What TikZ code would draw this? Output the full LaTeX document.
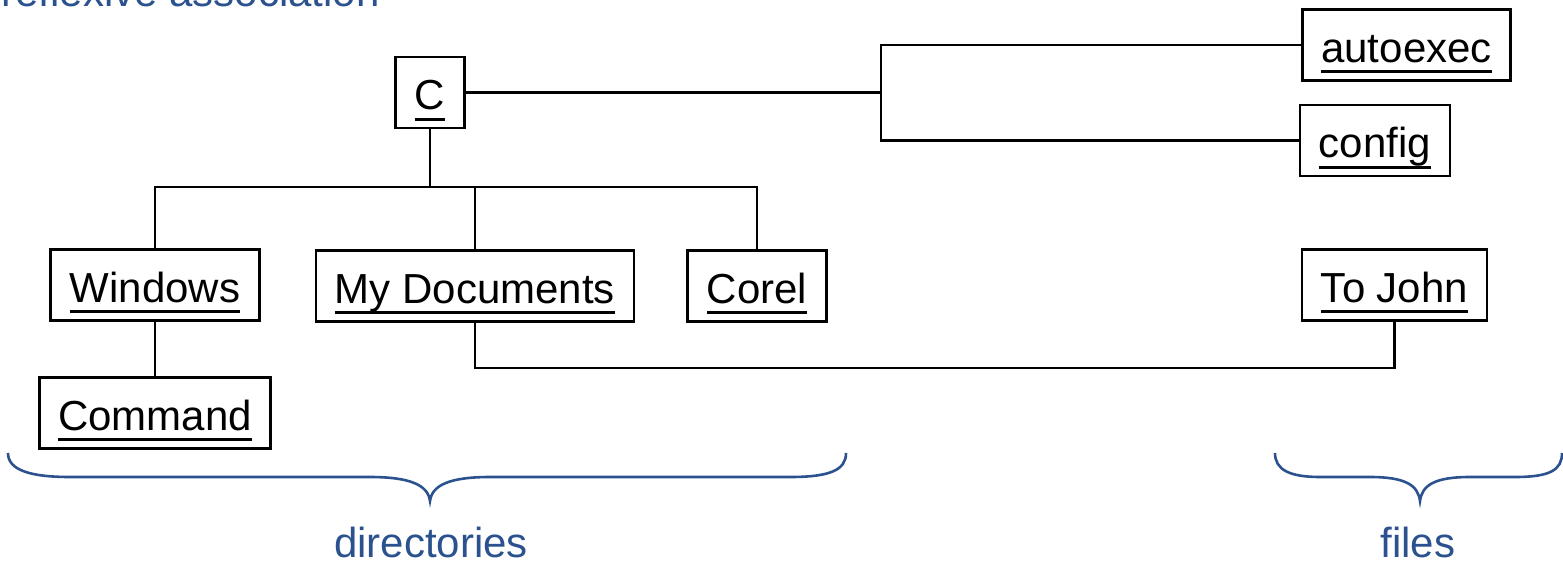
\documentclass[tikz,border=0pt]{standalone}
\usepackage{fontspec}
\setmainfont{Liberation Sans}
\usepackage{tikz}
\usetikzlibrary{positioning}

\definecolor{noteblue}{RGB}{43,82,142}
\newcommand{\boxfont}{\fontsize{21}{25}\selectfont}
\newcommand{\ulname}[1]{\setbox0\hbox{#1}\dp0=0pt\vtop{\box0\kern4pt\hrule height1.5pt}}

\begin{document}
\begin{tikzpicture}[
            x=0.5pt, y=-0.5pt, % one unit per pixel of the page
            box/.style={draw, line width=1.4pt, inner xsep=9.5pt, inner ysep=1pt,
                        text height=25pt, text depth=8pt, minimum height=35.5pt, font=\boxfont},
            wire/.style={draw, line width=1.3pt},
            curly/.style={draw=noteblue, line width=1.3pt},
            note/.style={text=noteblue, font=\boxfont, inner sep=0pt}
        ]
    \useasboundingbox (0,0) rectangle (1563,562);

    \node [note, anchor=base west] (Reflexive) at (1,6) {reflexive association};

    % directories and files
    \node [box, minimum width=32pt] (C) at (430,92.5) {\ulname{C}};
    \node [box] (Autoexec) at (1406.5,45) {\ulname{autoexec}};
    \node [box] (Config) at (1375,140.5) {\ulname{config}};
    \node [box] (Windows) at (155,285) {\ulname{Windows}};
    \node [box] (MyDocuments) at (475,286) {\ulname{My Documents}};
    \node [box] (Corel) at (757,286) {\ulname{Corel}};
    \node [box] (ToJohn) at (1394.5,285) {\ulname{To John}};
    \node [box] (Command) at (155,413) {\ulname{Command}};

    \coordinate (FileJoin) at (881,92.5);
    \coordinate (DirJoin) at (430,187);
    \coordinate (Bottom) at (900,368);

    % connectors
    \draw [wire] (C.east) -- (FileJoin);
    \draw [wire] (Autoexec.west) -| (FileJoin) |- (Config.west);
    \draw [wire] (C.south) -- (DirJoin);
    \draw [wire] (Windows.north) |- (Corel.north |- DirJoin) -- (Corel.north);
    \draw [wire] (MyDocuments.north) -- (MyDocuments.north |- DirJoin);
    \draw [wire] (Windows.south) -- (Command.north);
    \draw [wire] (MyDocuments.south) -- (MyDocuments.south |- Bottom) -| (ToJohn.south);

    % braces
    \draw [curly] (8,453) .. controls (8,470) and (30,477) .. (70,477) -- (370,477)
        .. controls (410,477) and (428,485) .. (430,501)
        .. controls (432,485) and (450,477) .. (490,477) -- (790,477)
        .. controls (830,477) and (846,470) .. (846,453);
    \draw [curly] (1275,453) .. controls (1275,470) and (1290,477) .. (1320,477) -- (1370,477)
        .. controls (1405,477) and (1418,485) .. (1420,501)
        .. controls (1422,485) and (1435,477) .. (1470,477) -- (1515,477)
        .. controls (1550,477) and (1562,470) .. (1562,453);

    \node [note, anchor=base] (Directories) at (431,557) {directories};
    \node [note, anchor=base] (Files) at (1418,557) {files};

  \end{tikzpicture}
\end{document}
